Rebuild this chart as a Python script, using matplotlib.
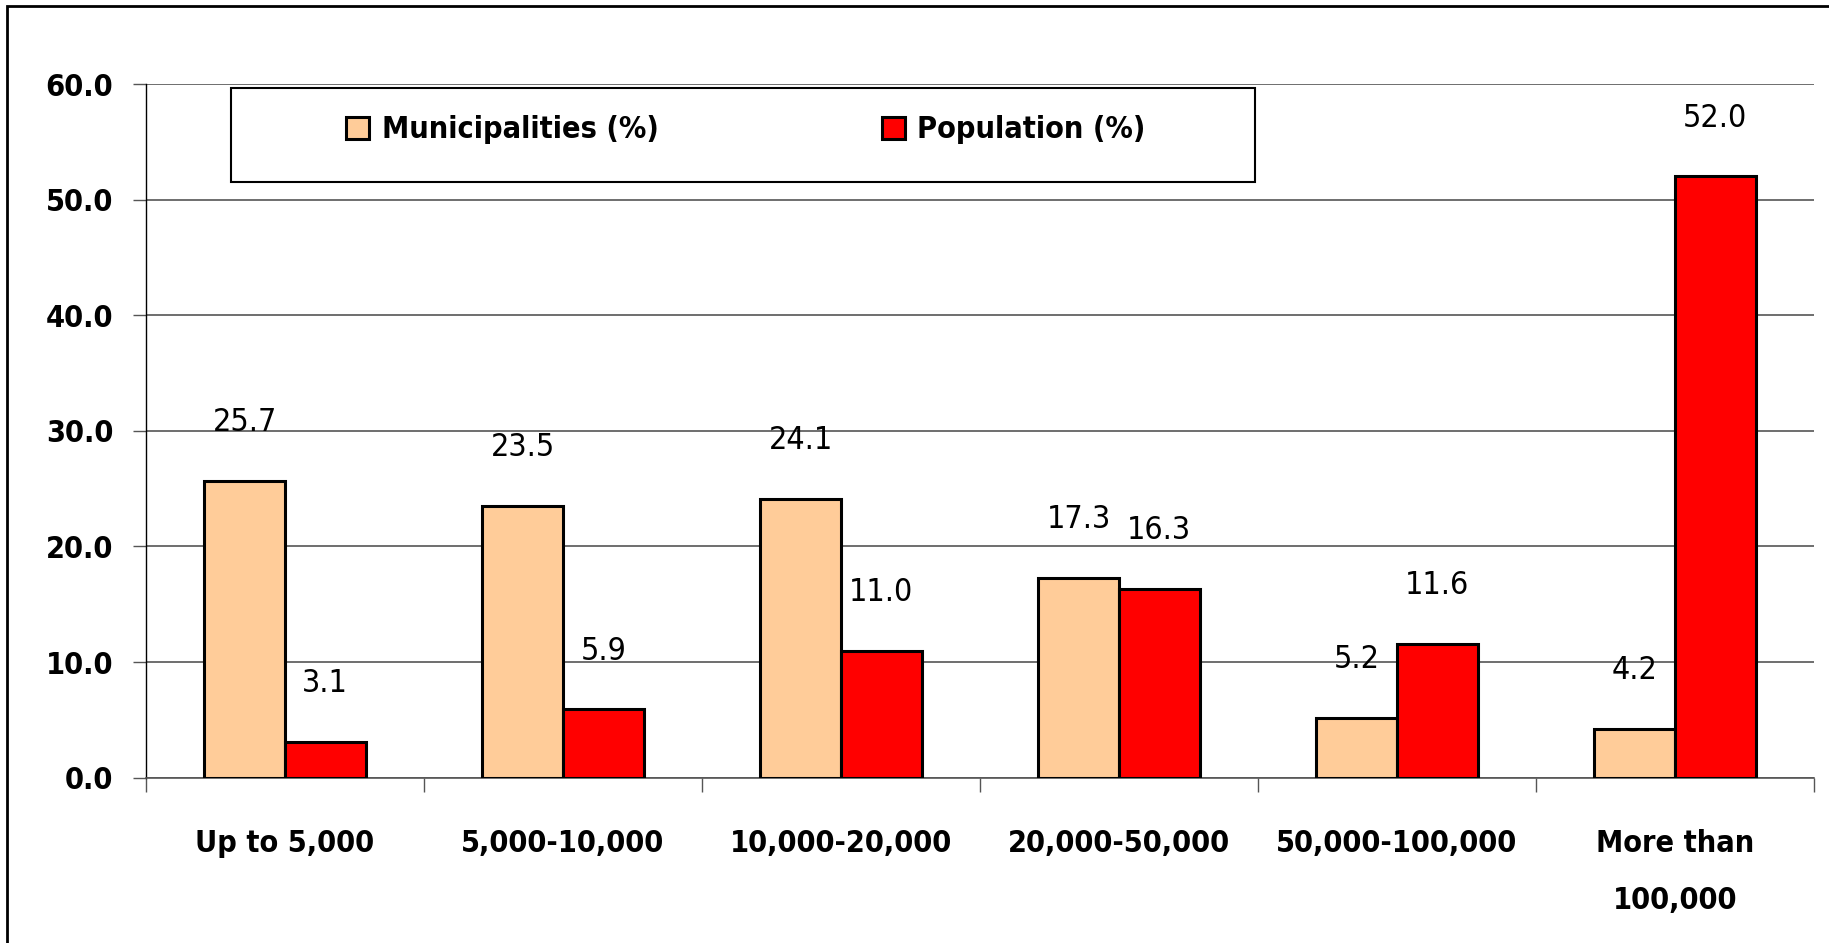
import matplotlib.pyplot as plt
from matplotlib.patches import Rectangle
import numpy as np

size_classes = ['Up to 5,000', '5,000-10,000', '10,000-20,000', '20,000-50,000',
                '50,000-100,000', 'More than\n100,000']
municipalities = [25.7, 23.5, 24.1, 17.3, 5.2, 4.2]
population = [3.1, 5.9, 11.0, 16.3, 11.6, 52.0]
series_names = ['Municipalities (%)', 'Population (%)']

plt.rcParams['font.family'] = ['DejaVu Sans']
plt.rcParams['font.stretch'] = 'condensed'

W, H = 1829, 943
fig = plt.figure(figsize=(W / 100, H / 100), dpi=100)
ax = fig.add_axes([146 / W, 1 - 777.7 / H, (1814 - 146) / W, (777.7 - 84) / H])

x = np.arange(len(size_classes)) + 0.5
bw = 0.29
b1 = ax.bar(x - bw / 2, municipalities, bw, color='#FFCC99', edgecolor='black', linewidth=2.2, zorder=3)
b2 = ax.bar(x + bw / 2, population, bw, color='#FF0000', edgecolor='black', linewidth=2.2, zorder=3)

for bars, vals in ((b1, municipalities), (b2, population)):
    for b, v in zip(bars, vals):
        ax.annotate(f'{v:.1f}', (b.get_x() + b.get_width() / 2, v),
                    xytext=(0, 42), textcoords='offset points',
                    ha='center', va='center', fontsize=23)

ax.set_xlim(0, len(size_classes))
ax.set_ylim(0, 60)
ax.set_yticks(np.arange(0, 61, 10))
ax.set_yticklabels([f'{t:.1f}' for t in np.arange(0, 61, 10)], fontsize=22, fontweight='bold')
ax.yaxis.grid(True, color='#555555', linewidth=1.2, zorder=0)
ax.tick_params(axis='y', length=9.5, width=1, color='#555555', pad=14)

ax.set_xticks(np.arange(0, len(size_classes) + 1))
ax.set_xticklabels([])
ax.tick_params(axis='x', which='major', length=10, width=1, color='#555555')
ax.set_xticks(x, minor=True)
ax.set_xticklabels(size_classes, minor=True, fontsize=22, fontweight='bold', linespacing=2.2)
ax.tick_params(axis='x', which='minor', length=0, pad=37)

for s in ('top', 'right'):
    ax.spines[s].set_visible(False)
ax.spines['left'].set_color('black')
ax.spines['left'].set_linewidth(1)
ax.spines['bottom'].set_color('#555555')
ax.spines['bottom'].set_linewidth(1.2)

# legend frame and entries
fig.add_artist(Rectangle((231 / W, 1 - 182 / H), (1255 - 231) / W, (182 - 88) / H,
                         transform=fig.transFigure, facecolor='white', edgecolor='black',
                         linewidth=1.5, zorder=5))
leg = fig.legend([b1, b2], series_names, loc='center left',
                 bbox_to_anchor=(346 / W, 1 - 130 / H), ncol=2, frameon=False,
                 prop={'size': 22, 'weight': 'bold', 'stretch': 'condensed'},
                 handlelength=0.75, handleheight=0.75, handletextpad=0.42,
                 columnspacing=7.3, borderpad=0, borderaxespad=0)
leg.set_zorder(6)

# outer chart border
fig.add_artist(Rectangle((7 / W, -1), 2, 1 + (1 - 6 / H), transform=fig.transFigure,
                         fill=False, edgecolor='black', linewidth=2))

fig.savefig('out.png', dpi=100)
